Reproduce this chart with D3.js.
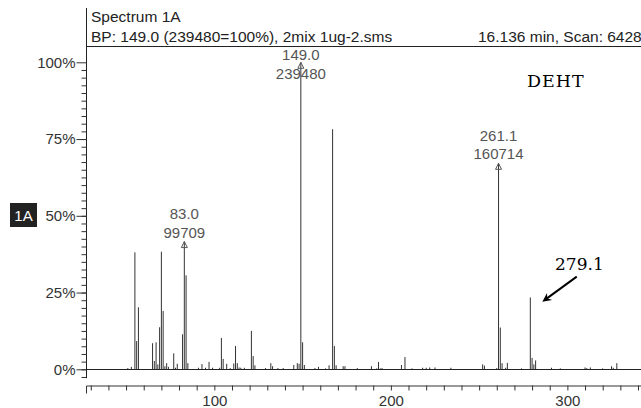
<!DOCTYPE html>
<html>
<head>
<meta charset="utf-8">
<script src="https://cdn.jsdelivr.net/npm/d3@7"></script>
<style>
  body { margin: 0; background: #fff; }
  svg { display: block; }
  text { font-family: "Liberation Sans", Arial, sans-serif; }
  text.serif { font-family: "DejaVu Serif", "Liberation Serif", serif; }
</style>
</head>
<body>
<svg id="chart" width="641" height="408"></svg>
<script>
// m/z of each peak and its relative intensity (% of base peak 149)
const mzValues = [51, 53, 55, 56, 57, 65, 66, 67, 68, 69, 70, 71, 72, 73, 74, 77, 78, 79, 82, 83, 84, 85,
  91, 93, 95, 97, 99, 103, 104, 105, 107, 109, 111, 112, 113, 114, 115, 117, 121, 122, 123, 129,
  132, 133, 136, 139, 145, 147, 148, 149, 150, 151, 157, 159, 163, 165, 167, 168, 169, 173, 174,
  181, 189, 192, 193, 194, 195, 206, 208, 212, 218, 220, 222, 225, 234, 252, 253, 260, 261, 262,
  263, 265, 266, 274, 279, 280, 281, 282, 291, 296, 310, 311, 313, 320, 325, 326, 328];
const relIntensity = [0.4, 0.8, 38.1, 9.2, 20.2, 8.5, 2.7, 8.8, 1.6, 13.7, 38.3, 19.0, 1.0, 2.0, 0.8, 5.2, 0.5, 1.8, 11.4, 41.6, 30.6, 2.0,
  0.5, 1.7, 0.5, 2.4, 0.5, 0.5, 10.2, 3.4, 1.8, 0.4, 1.9, 7.6, 2.0, 0.6, 0.5, 0.5, 12.5, 4.3, 1.3, 0.4,
  2.0, 1.0, 0.4, 0.4, 1.4, 2.0, 1.8, 100, 8.8, 1.4, 0.4, 0.8, 0.3, 1.3, 78.2, 7.6, 1.3, 1.0, 1.0,
  0.4, 1.0, 0.3, 2.4, 0.3, 0.4, 1.4, 4.0, 0.3, 0.5, 0.5, 0.6, 0.6, 0.5, 1.6, 1.2, 0.4, 67.1, 13.6,
  2.0, 0.5, 2.1, 0.3, 23.4, 3.7, 1.6, 2.9, 0.5, 0.3, 0.6, 0.4, 0.6, 0.3, 1.0, 0.5, 2.0];

const labeledMz = [83, 149, 261];
const labeledText = [["83.0", "99709"], ["149.0", "239480"], ["261.1", "160714"]];

const yTickValues = [0, 25, 50, 75, 100];
const xTickLabels = [100, 200, 300];

const headerLines = ["Spectrum 1A", "BP: 149.0 (239480=100%), 2mix 1ug-2.sms"];
const headerRight = "16.136 min, Scan: 6428";
const compoundName = "DEHT";
const calloutText = "279.1";

const svg = d3.select("#chart");
const plotLeft = 86, plotRight = 641, plotTop = 46;

const x = d3.scaleLinear().domain([27.3, 341.7]).range([plotLeft, plotRight]);
const y = d3.scaleLinear().domain([0, 100]).range([369.3, 62.3]);

// header
svg.append("line")
  .attr("x1", plotLeft + 0.5).attr("x2", plotLeft + 0.5)
  .attr("y1", 8).attr("y2", y(-2.9))
  .attr("stroke", "#222");
svg.append("line")
  .attr("x1", plotLeft).attr("x2", plotRight)
  .attr("y1", plotTop + 0.5).attr("y2", plotTop + 0.5)
  .attr("stroke", "#222");
svg.selectAll("text.hdr")
  .data(headerLines)
  .join("text")
  .attr("class", "hdr")
  .attr("x", 91)
  .attr("y", (d, i) => 22 + i * 20)
  .attr("font-size", 15.5)
  .attr("fill", "#222")
  .text(d => d);
svg.append("text")
  .attr("x", 478).attr("y", 42)
  .attr("font-size", 15.5)
  .attr("fill", "#222")
  .text(headerRight);

// y axis: major + minor ticks
const yMajor = svg.append("g")
  .attr("transform", `translate(${plotLeft + 0.5},0)`)
  .call(d3.axisLeft(y).tickValues(yTickValues).tickSize(10).tickPadding(1)
    .tickFormat(d => d + "%"));
yMajor.select(".domain").remove();
yMajor.selectAll("line").attr("stroke", "#333");
yMajor.selectAll("text").attr("font-size", 15).attr("fill", "#333");

const yMinor = svg.append("g")
  .attr("transform", `translate(${plotLeft + 0.5},0)`)
  .call(d3.axisLeft(y).tickValues(d3.range(-2.5, 100, 2.5)).tickSize(5).tickFormat(""));
yMinor.select(".domain").remove();
yMinor.selectAll("line").attr("stroke", "#333");

// "1A" trace badge
svg.append("rect")
  .attr("x", 10).attr("y", 203).attr("width", 27).attr("height", 24)
  .attr("fill", "#222");
svg.append("text")
  .attr("x", 23.5).attr("y", 221)
  .attr("text-anchor", "middle")
  .attr("font-size", 15)
  .attr("fill", "#fff")
  .text("1A");

// x axis
const xAxis = svg.append("g")
  .attr("transform", "translate(0,385.5)")
  .call(d3.axisBottom(x).tickValues(d3.range(30, 341, 10)).tickSize(5).tickSizeOuter(8)
    .tickPadding(5)
    .tickFormat(d => xTickLabels.includes(d) ? d : ""));
xAxis.selectAll("line, path").attr("stroke", "#333");
xAxis.selectAll("text").attr("font-size", 15).attr("fill", "#333");

// peaks
const peaks = mzValues.map((m, i) => ({ mz: m, v: relIntensity[i] }));
svg.append("g")
  .selectAll("line")
  .data(peaks)
  .join("line")
  .attr("x1", d => x(d.mz)).attr("x2", d => x(d.mz))
  .attr("y1", y(0)).attr("y2", d => y(d.v))
  .attr("stroke", "#333")
  .attr("stroke-width", 1);

// baseline
svg.append("line")
  .attr("x1", plotLeft).attr("x2", plotRight)
  .attr("y1", Math.round(y(0)) + 0.5).attr("y2", Math.round(y(0)) + 0.5)
  .attr("stroke", "#222");

// labelled peaks: triangle + m/z + abundance
const labels = labeledMz.map((m, i) => ({
  mz: m, v: relIntensity[mzValues.indexOf(m)], lines: labeledText[i]
}));
const lab = svg.append("g").selectAll("g").data(labels).join("g");
lab.append("path")
  .attr("d", d => {
    const px = x(d.mz), py = y(d.v);
    return `M${px},${py}L${px - 3},${py + 6}L${px + 3},${py + 6}Z`;
  })
  .attr("fill", "none")
  .attr("stroke", "#555");
lab.selectAll("text")
  .data(d => d.lines.map((t, j) => ({ t, j, d })))
  .join("text")
  .attr("x", o => x(o.d.mz))
  .attr("y", o => Math.max(y(o.d.v) - 22.5, 60) + o.j * 18.5)
  .attr("text-anchor", "middle")
  .attr("font-size", 15)
  .attr("fill", "#555")
  .text(o => o.t);

// annotations
svg.append("text")
  .attr("class", "serif")
  .attr("x", x(277.1)).attr("y", y(91.9))
  .attr("font-size", 17.5)
  .attr("letter-spacing", 1)
  .attr("fill", "#000")
  .text(compoundName);

svg.append("text")
  .attr("class", "serif")
  .attr("x", x(293)).attr("y", y(32.3))
  .attr("font-size", 17)
  .attr("fill", "#000")
  .text(calloutText);

const a0 = [x(305.3), y(30.2)], a1 = [x(285.8), y(22.0)];
const ang = Math.atan2(a1[1] - a0[1], a1[0] - a0[0]);
svg.append("line")
  .attr("x1", a0[0]).attr("y1", a0[1])
  .attr("x2", a1[0] - 4 * Math.cos(ang)).attr("y2", a1[1] - 4 * Math.sin(ang))
  .attr("stroke", "#000").attr("stroke-width", 2);
const head = (r, da) => [a1[0] - r * Math.cos(ang + da), a1[1] - r * Math.sin(ang + da)];
const h1 = head(10, 0.45), h2 = head(10, -0.45), hb = head(6, 0);
svg.append("path")
  .attr("d", `M${a1[0]},${a1[1]}L${h1[0]},${h1[1]}L${hb[0]},${hb[1]}L${h2[0]},${h2[1]}Z`)
  .attr("fill", "#000");
</script>
</body>
</html>
